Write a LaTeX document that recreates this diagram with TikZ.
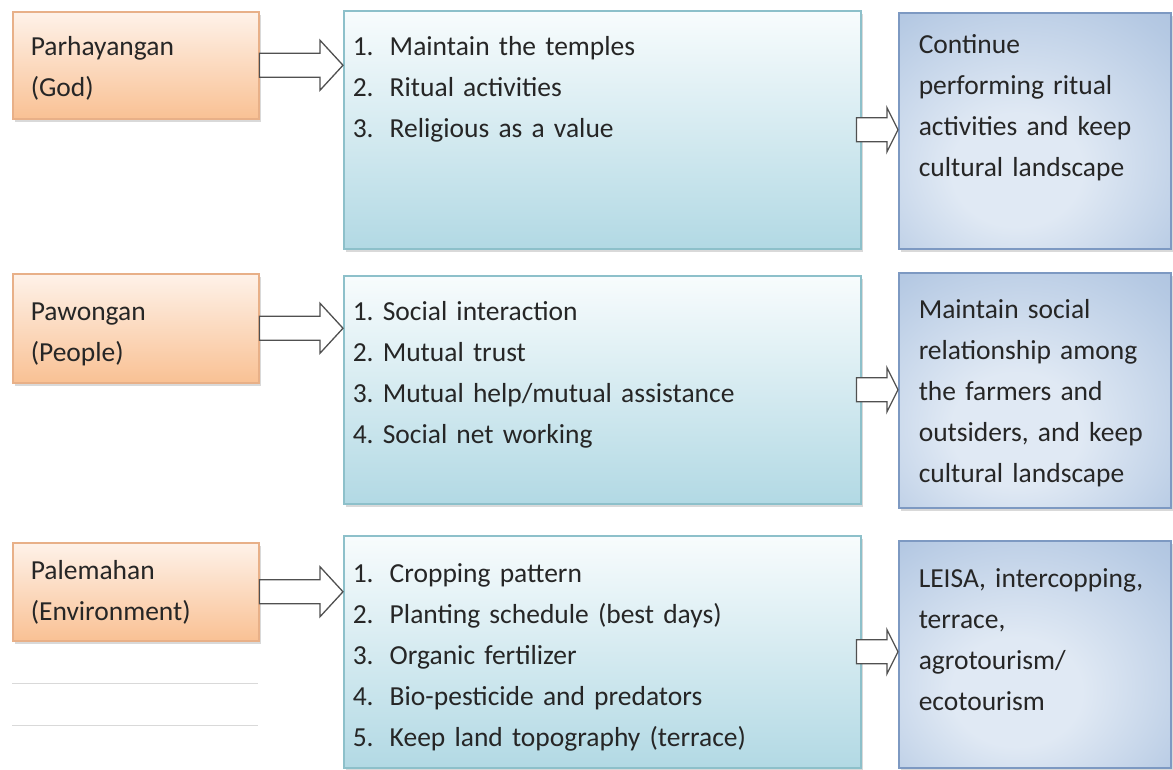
\documentclass[tikz,border=0pt]{standalone}
\usepackage{fontspec}
\setmainfont{Carlito}
\usetikzlibrary{calc, shadows}

\definecolor{ink}{HTML}{262626}
\definecolor{peachtop}{HTML}{FEF2E9}
\definecolor{peachbot}{HTML}{F9C194}
\definecolor{peachline}{HTML}{E8B088}
\definecolor{aquatop}{HTML}{F8FCFD}
\definecolor{aquabot}{HTML}{B2D9E4}
\definecolor{aqualine}{HTML}{8DC0CA}
\definecolor{bluelight}{HTML}{E0E9F4}
\definecolor{bluemid}{HTML}{B5C9E3}
\definecolor{bluedark}{HTML}{8AA7CF}
\definecolor{blueline}{HTML}{7D99C2}
\definecolor{arrowgray}{HTML}{505050}

\pgfdeclareradialshading{bluebox}{\pgfpoint{-4bp}{-10bp}}{color(0bp)=(bluelight); color(12bp)=(bluelight); color(36bp)=(bluemid); color(72bp)=(bluedark)}

\newcommand{\itm}[1]{\makebox[37pt][l]{#1}}
\newcommand{\boxfont}{\fontsize{27.5}{41}\selectfont\frenchspacing\spaceskip=4.5pt\relax}

\begin{document}
\begin{tikzpicture}[x=1pt, y=-1pt,
  box/.style={draw, line width=1.5pt, anchor=north west, inner ysep=0pt, align=left,
    text=ink, font=\boxfont,
    drop shadow={shadow xshift=2pt, shadow yshift=-3pt, opacity=.3}},
  leftbox/.style={box, draw=peachline, top color=peachtop, bottom color=peachbot, inner xsep=18pt, text width=210pt},
  actbox/.style={box, draw=aqualine, top color=aquatop, bottom color=aquabot, inner xsep=9pt, text width=499pt},
  resbox/.style={box, draw=blueline, shading=bluebox, inner xsep=20pt, text width=232pt},
  openarrow/.style={draw=arrowgray, fill=white, line width=1.3pt, line join=miter},
  rule/.style={draw=black!15, line width=1pt}]
\useasboundingbox (0,0) rectangle (1173,769);

% Tri Hita Karana: left column
\node [leftbox, text height=44pt, text depth=63pt] (parhy) at (12,11)  {Parhayangan\\(God)};
\node [leftbox, text height=47pt, text depth=62pt] (pawon) at (12,273) {Pawongan\\(People)};
\node [leftbox, text height=37pt, text depth=61pt] (palem) at (12,542) {Palemahan\\(Environment)};
\draw [rule] (12,683) -- (258,683);
\draw [rule] (12,725) -- (258,725);

% activities
\node [actbox, text height=45pt, text depth=193pt] (act1) at (343,10)
  {\itm{1.}Maintain the temples\\\itm{2.}Ritual activities\\\itm{3.}Religious as a value};
\node [actbox, text height=45pt, text depth=183pt] (act2) at (343,275)
  {1. Social interaction\\2. Mutual trust\\3. Mutual help/mutual assistance\\4. Social net working};
\node [actbox, text height=47pt, text depth=185pt] (act3) at (343,535)
  {\itm{1.}Cropping pattern\\\itm{2.}Planting schedule (best days)\\\itm{3.}Organic fertilizer\\\itm{4.}Bio-pesticide and predators\\\itm{5.}Keep land topography (terrace)};

% results
\node [resbox, text height=41pt, text depth=195pt] (res1) at (898,12)
  {Continue\\performing ritual\\activities and keep\\cultural landscape};
\node [resbox, text height=46pt, text depth=189pt] (res2) at (898,272)
  {Maintain social\\relationship among\\the farmers and\\outsiders, and keep\\cultural landscape};
\node [resbox, text height=47pt, text depth=180pt] (res3) at (898,540)
  {LEISA, intercopping,\\terrace,\\agrotourism/\\ecotourism};

% block arrows: from/to/back-off/head length/head half width
\foreach \s/\t/\o/\h/\w in {parhy/act1/0/23/25, pawon/act2/0/23/25, palem/act3/0/23/25,
                           act1/res1/5/11/22, act2/res2/5/11/22, act3/res3/5/11/22} {
  \draw [openarrow] ($(\s.east)+(-\o,-12)$) -- ($(\s.east -| \t.west)+(-\h,-12)$)
    -- ($(\s.east -| \t.west)+(-\h,-\w)$) -- (\s.east -| \t.west)
    -- ($(\s.east -| \t.west)+(-\h,\w)$) -- ($(\s.east -| \t.west)+(-\h,12)$)
    -- ($(\s.east)+(-\o,12)$) -- cycle;
}
\end{tikzpicture}
\end{document}
